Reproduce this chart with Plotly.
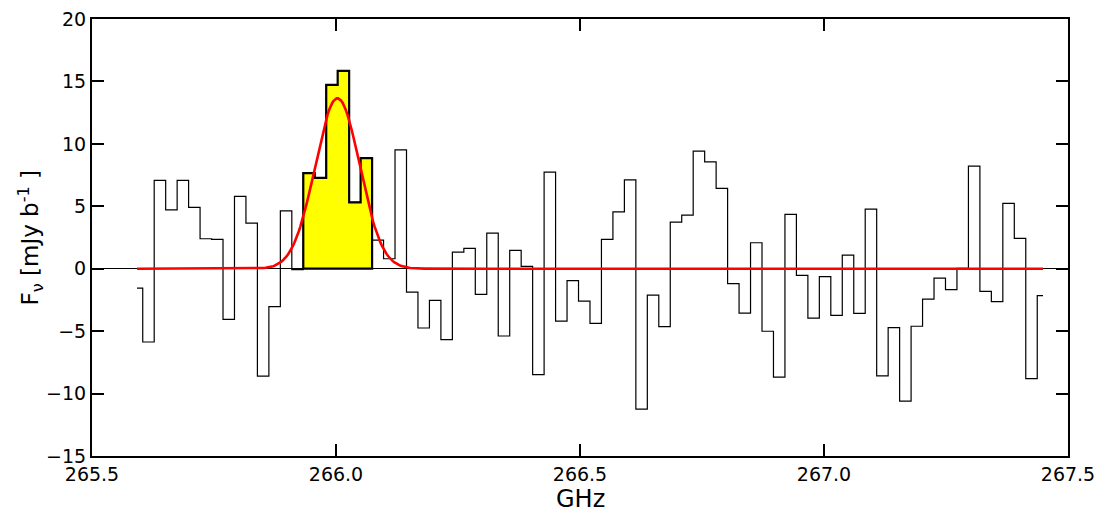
import numpy as np
import plotly.graph_objects as go

# Channel centre frequencies (GHz)
freq = [
    265.5922, 265.6157, 265.6392, 265.6627, 265.6862, 265.7097, 265.7332, 265.7567,
    265.7802, 265.8037, 265.8272, 265.8507, 265.8742, 265.8977, 265.9212, 265.9447,
    265.9682, 265.9917, 266.0152, 266.0387, 266.0622, 266.0857, 266.1092, 266.1327,
    266.1562, 266.1797, 266.2032, 266.2267, 266.2502, 266.2737, 266.2972, 266.3207,
    266.3442, 266.3677, 266.3912, 266.4147, 266.4382, 266.4617, 266.4852, 266.5087,
    266.5322, 266.5557, 266.5792, 266.6027, 266.6262, 266.6497, 266.6732, 266.6967,
    266.7202, 266.7437, 266.7672, 266.7907, 266.8142, 266.8377, 266.8612, 266.8847,
    266.9082, 266.9317, 266.9552, 266.9787, 267.0022, 267.0257, 267.0492, 267.0727,
    267.0962, 267.1197, 267.1432, 267.1667, 267.1902, 267.2137, 267.2372, 267.2607,
    267.2842, 267.3077, 267.3312, 267.3547, 267.3782, 267.4017, 267.4252, 267.4487,
]

# Flux density per channel (mJy/beam)
flux = [
    -1.55, -5.87, 7.07, 4.72, 7.07, 4.91, 2.40, 2.35,
    -4.05, 5.79, 3.65, -8.61, -3.04, 4.64, -0.08, 7.65,
    7.28, 14.72, 15.84, 5.31, 8.85, 2.29, 0.80, 9.52,
    -1.87, -4.75, -2.53, -5.68, 1.33, 1.63, -2.05, 2.85,
    -5.39, 1.47, 0.19, -8.48, 7.73, -4.19, -0.96, -2.59,
    -4.37, 2.35, 4.56, 7.12, -11.25, -2.11, -4.64, 3.73,
    4.29, 9.41, 8.56, 6.43, -1.20, -3.55, 2.08, -5.01,
    -8.69, 4.35, -0.53, -3.95, -0.64, -3.73, 1.09, -3.57,
    4.77, -8.59, -4.72, -10.61, -4.61, -2.43, -0.75, -1.68,
    0.02, 8.21, -1.81, -2.64, 5.23, 2.43, -8.80, -2.16,
]

# Channels highlighted as the line emission
line_channels = [15, 16, 17, 18, 19, 20]

# Gaussian fit parameters
fit_amp = 13.65
fit_center = 266.003
fit_sigma = 0.0455

x_ticks = [265.5, 266.0, 266.5, 267.0, 267.5]
y_ticks = [-15, -10, -5, 0, 5, 10, 15, 20]

fx = np.array(freq)
fy = np.array(flux)

# channel edges from centres
mids = (fx[:-1] + fx[1:]) / 2
left_edges = np.concatenate([[fx[0] - (mids[0] - fx[0])], mids])
right_edges = np.concatenate([mids, [fx[-1] + (fx[-1] - mids[-1])]])

# yellow polygon for highlighted channels
px, py = [left_edges[line_channels[0]]], [0.0]
for i in line_channels:
    px += [left_edges[i], right_edges[i]]
    py += [fy[i], fy[i]]
px += [right_edges[line_channels[-1]], left_edges[line_channels[0]]]
py += [0.0, 0.0]

gx = np.linspace(fx[0], fx[-1], 600)
gy = fit_amp * np.exp(-0.5 * ((gx - fit_center) / fit_sigma) ** 2)

fig = go.Figure()
fig.add_trace(go.Scatter(x=freq, y=flux, mode="lines",
                         line=dict(shape="hvh", color="black", width=1.2),
                         showlegend=False, hoverinfo="skip"))
fig.add_trace(go.Scatter(x=px, y=py, mode="lines", fill="toself",
                         fillcolor="#ffff00",
                         line=dict(color="black", width=2.2),
                         showlegend=False, hoverinfo="skip"))
fig.add_trace(go.Scatter(x=gx, y=gy, mode="lines",
                         line=dict(color="#ff0000", width=2.6),
                         showlegend=False, hoverinfo="skip"))

axis_common = dict(
    showline=True, linecolor="black", linewidth=2, mirror="allticks",
    ticks="inside", ticklen=12, tickwidth=2, tickcolor="black",
    showgrid=False, automargin=False,
    tickfont=dict(family="DejaVu Sans", size=19, color="black"),
)

fig.update_xaxes(range=[265.5, 267.5], tickvals=x_ticks,
                 ticktext=[f"{v:.1f}" for v in x_ticks],
                 zeroline=False, **axis_common)
fig.update_yaxes(range=[-15, 20], tickvals=y_ticks,
                 zeroline=True, zerolinecolor="black", zerolinewidth=1,
                 **axis_common)

fig.add_annotation(text="GHz", xref="paper", yref="paper", x=0.5, y=-0.0977,
                   xanchor="center", yanchor="middle", showarrow=False,
                   font=dict(family="DejaVu Sans", size=24, color="black"))
fig.add_annotation(text="F<sub>ν</sub> [mJy b<sup>-1</sup> ]", xref="paper", yref="paper",
                   x=-0.0635, y=0.5, textangle=-90,
                   xanchor="center", yanchor="middle", showarrow=False,
                   font=dict(family="DejaVu Sans", size=23, color="black"))

fig.update_layout(
    width=1108, height=513,
    margin=dict(l=92, r=40, t=19, b=57),
    plot_bgcolor="white", paper_bgcolor="white",
)

fig.write_html("out.html")
